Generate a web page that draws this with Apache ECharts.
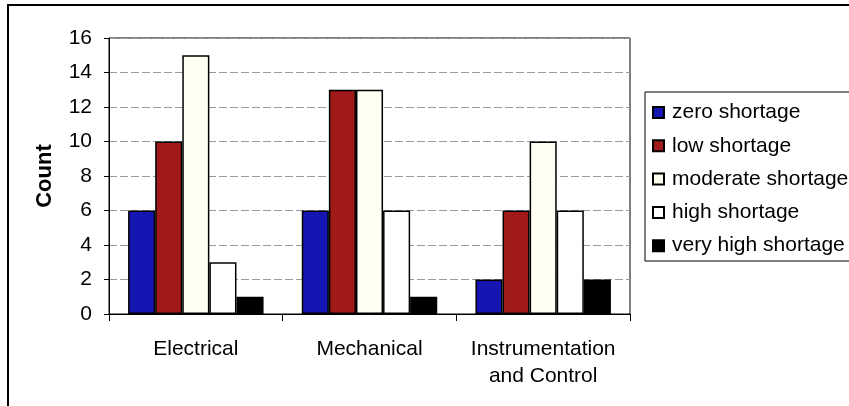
<!DOCTYPE html>
<html>
<head>
<meta charset="utf-8">
<script src="https://cdn.jsdelivr.net/npm/echarts@6/dist/echarts.min.js"></script>
<style>
html,body{margin:0;padding:0;background:#fff;}
#c{width:849px;height:406px;}
</style>
</head>
<body>
<div id="c"></div>
<script>
const categories = ['Electrical', 'Mechanical', 'Instrumentation\nand Control'];
const seriesNames = ['zero shortage', 'low shortage', 'moderate shortage', 'high shortage', 'very high shortage'];
const zeroShortage = [6, 6, 2];
const lowShortage = [10, 13, 6];
const moderateShortage = [15, 13, 10];
const highShortage = [3, 6, 6];
const veryHighShortage = [1, 1, 2];
const yTicks = [0, 2, 4, 6, 8, 10, 12, 14, 16];

const seriesValues = [zeroShortage, lowShortage, moderateShortage, highShortage, veryHighShortage];
const colors = ['#1515b2', '#a01a1a', '#fffff2', '#ffffff', '#000000'];
const FONT = '"Liberation Sans", Arial, sans-serif';

const chart = echarts.init(document.getElementById('c'));
chart.setOption({
  animation: false,
  backgroundColor: '#fff',
  textStyle: { fontFamily: FONT, color: '#000' },
  grid: { left: 109, right: 219, top: 38, bottom: 92, show: true, borderColor: '#000', borderWidth: 1, backgroundColor: 'transparent' },
  legend: {
    orient: 'vertical',
    left: 652, top: 102,
    padding: 0,
    itemWidth: 11, itemHeight: 11, itemGap: 12.3,
    icon: 'rect',
    data: seriesNames,
    textStyle: { fontFamily: FONT, fontSize: 21, color: '#000', padding: [0, 0, 0, 3] }
  },
  xAxis: {
    type: 'category',
    data: categories,
    axisLine: { lineStyle: { color: '#000', width: 1 } },
    axisTick: { show: true, length: 7, lineStyle: { color: '#000' } },
    axisLabel: { interval: 0, fontFamily: FONT, fontSize: 21, color: '#000', margin: 22, lineHeight: 27 }
  },
  yAxis: {
    type: 'value',
    min: yTicks[0], max: yTicks[yTicks.length - 1], interval: 2,
    name: 'Count',
    nameLocation: 'middle',
    nameRotate: 90,
    nameGap: 53,
    nameTextStyle: { fontFamily: FONT, fontSize: 22, fontWeight: 'bold', color: '#000' },
    axisLine: { show: true, lineStyle: { color: '#000', width: 1 } },
    axisTick: { show: true, length: 5, lineStyle: { color: '#000' } },
    axisLabel: { fontFamily: FONT, fontSize: 21, color: '#000', margin: 17 },
    splitLine: { show: true, lineStyle: { color: '#9a9a9a', type: [8, 3], width: 1 } }
  },
  series: seriesNames.map((name, i) => ({
    name: name,
    type: 'bar',
    data: seriesValues[i],
    barGap: '0%',
    barCategoryGap: '22%',
    itemStyle: { color: colors[i], borderColor: '#000', borderWidth: 1.5 }
  })),
  graphic: [
    { type: 'rect', shape: { x: 8, y: 5, width: 900, height: 500 }, style: { fill: 'none', stroke: '#000', lineWidth: 2 }, silent: true, z: 100 },
    { type: 'rect', shape: { x: 645, y: 92, width: 206, height: 169 }, style: { fill: 'none', stroke: '#000', lineWidth: 1 }, silent: true, z: 100 }
  ]
});
</script>
</body>
</html>
